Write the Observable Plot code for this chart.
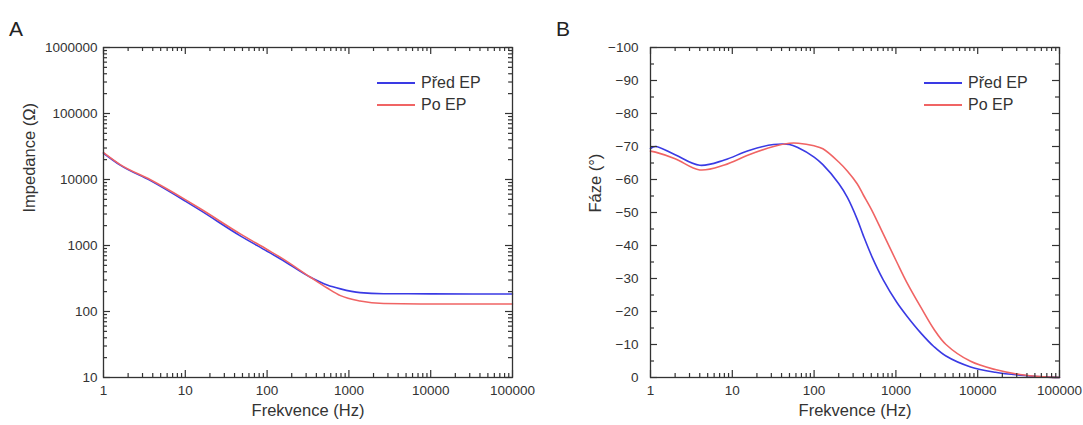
<!DOCTYPE html>
<html><head><meta charset="utf-8">
<script src="https://cdn.jsdelivr.net/npm/d3@7"></script>
<script src="https://cdn.jsdelivr.net/npm/@observablehq/plot@0.6"></script>
<style>
body{margin:0;background:#fff;}
#wrap{position:relative;width:1083px;height:425px;font-family:"Liberation Sans",Arial,sans-serif;color:#333;overflow:hidden;}
.panel{position:absolute;top:0;}
.letter{position:absolute;font-size:21px;line-height:21px;color:#222;}
.legend{position:absolute;font-size:16px;color:#333;}
.legend .row{display:flex;align-items:center;height:22px;}
.legend .sw{width:38px;height:0;border-top:2px solid;margin-right:6px;}
</style></head><body><div id="wrap"></div>
<script>
// ---- data ----
const seriesNames = ["Před EP", "Po EP"];
const seriesColors = ["#3a3ae4", "#f06464"];

// Panel A: impedance vs frequency
const freqA   = [1, 1.6, 3.75, 10, 15.3, 47, 100, 146, 339, 543, 789, 1370, 2660, 10000, 100000];
const zBefore = [25000, 16500, 9600, 4700, 3400, 1400, 820, 625, 330, 252, 220, 193, 186, 185, 184];
const zAfter  = [25500, 16800, 9900, 4950, 3600, 1500, 870, 660, 330, 227, 174, 144, 132, 130, 130];

// Panel B: phase vs frequency
const freqB = [1, 1.15, 2, 4, 8, 16, 32, 50, 64, 100, 128, 200, 256, 336, 400, 512, 700, 1024, 1374, 2048, 2905, 4096, 8192, 16384, 32768, 65536, 100000];
const phaseBefore = [-69.4, -70, -67.5, -64.3, -65.9, -68.8, -70.6, -70.6, -69.6, -66.8, -64.5, -58.8, -54.5, -48, -43, -36.5, -29.6, -22.8, -18.5, -13.3, -9.4, -6.5, -3.2, -1.6, -0.7, -0.2, 0];
const phaseAfter  = [-68.6, -68.3, -66.3, -62.9, -64.4, -67.5, -70, -71, -71, -70.2, -69.3, -65.3, -62.5, -58.7, -55.3, -50.5, -43.5, -35, -28.6, -21, -14.7, -10, -4.9, -2.4, -0.9, -0.2, 0];

// ticks
const freqTicks = [1, 10, 100, 1000, 10000, 100000];
const zTicks = [10, 100, 1000, 10000, 100000, 1000000];
const phaseTicks = [0, -10, -20, -30, -40, -50, -60, -70, -80, -90, -100];
const phaseMinor = [-5, -15, -25, -35, -45, -55, -65, -75, -85, -95];
const logMinor = (decades) => decades.slice(0, -1).flatMap(d => [2,3,4,5,6,7,8,9].map(k => k * d));
const freqMinor = logMinor(freqTicks);
const zMinor = logMinor(zTicks);

// ---- layout ----
const H = 425;
const FONT = "'Liberation Sans', Arial, sans-serif";
const INK = "#333";
const wrap = document.getElementById("wrap");

function boxTicks(xMaj, xMin, yMaj, yMin, innerW, innerH) {
  const L = 7, S = 4;
  const st = {stroke: INK, strokeWidth: 1.2};
  return [
    Plot.tickX(xMaj, {x: d => d, insetTop: innerH - L, ...st}),
    Plot.tickX(xMaj, {x: d => d, insetBottom: innerH - L, ...st}),
    Plot.tickX(xMin, {x: d => d, insetTop: innerH - S, ...st}),
    Plot.tickX(xMin, {x: d => d, insetBottom: innerH - S, ...st}),
    Plot.tickY(yMaj, {y: d => d, insetRight: innerW - L, ...st}),
    Plot.tickY(yMaj, {y: d => d, insetLeft: innerW - L, ...st}),
    Plot.tickY(yMin, {y: d => d, insetRight: innerW - S, ...st}),
    Plot.tickY(yMin, {y: d => d, insetLeft: innerW - S, ...st})
  ];
}

function panel({left, width, m, xDomain, yScale, xTicksMaj, xTicksMin, yTicksMaj, yTicksMin, data, curve, yTitle, yTitleDx, yPad}) {
  const innerW = width - m.left - m.right;
  const innerH = H - m.top - m.bottom;
  const fmt = d3.format("d");
  const chart = Plot.plot({
    width, height: H,
    marginLeft: m.left, marginRight: m.right, marginTop: m.top, marginBottom: m.bottom,
    style: {fontFamily: FONT, fontSize: "13.5px", color: "#333", background: "transparent"},
    x: {type: "log", domain: xDomain, label: null},
    y: {...yScale, label: null},
    color: {domain: seriesNames, range: seriesColors},
    marks: [
      Plot.line(data, {x: "f", y: "v", stroke: "s", z: "s", curve, strokeWidth: 1.6}),
      ...boxTicks(xTicksMaj, xTicksMin, yTicksMaj, yTicksMin, innerW, innerH),
      Plot.frame({stroke: INK, strokeWidth: 1.3}),
      Plot.axisX({ticks: xTicksMaj, tickSize: 0, tickPadding: 8, tickFormat: fmt, label: null}),
      Plot.axisY({ticks: yTicksMaj, tickSize: 0, tickPadding: yPad, tickFormat: fmt, label: null}),
      Plot.text(["Frekvence (Hz)"], {text: d => d, frameAnchor: "bottom", dy: 38, fontSize: 16.5, fill: "#333"}),
      Plot.text([yTitle], {text: d => d, frameAnchor: "left", dx: yTitleDx, rotate: -90, fontSize: 16.5, fill: "#333"})
    ]
  });
  chart.classList.add("panel");
  chart.style.left = left + "px";
  wrap.appendChild(chart);
}

function toRows(freq, a, b) {
  return [
    ...freq.map((f, i) => ({f, v: a[i], s: seriesNames[0]})),
    ...freq.map((f, i) => ({f, v: b[i], s: seriesNames[1]}))
  ];
}

panel({
  left: 0, width: 540, m: {left: 103, right: 28, top: 47, bottom: 48},
  xDomain: [1, 100000], yScale: {type: "log", domain: [10, 1000000]},
  xTicksMaj: freqTicks, xTicksMin: freqMinor, yTicksMaj: zTicks, yTicksMin: zMinor,
  data: toRows(freqA, zBefore, zAfter), curve: "monotone-x",
  yTitle: "Impedance (Ω)", yTitleDx: -74, yPad: 6
});

panel({
  left: 540, width: 543, m: {left: 110, right: 24, top: 47, bottom: 48},
  xDomain: [1, 100000], yScale: {type: "linear", domain: [0, -100]},
  xTicksMaj: freqTicks, xTicksMin: freqMinor, yTicksMaj: phaseTicks, yTicksMin: phaseMinor,
  data: toRows(freqB, phaseBefore, phaseAfter), curve: "catmull-rom",
  yTitle: "Fáze (°)", yTitleDx: -55, yPad: 12
});

// panel letters
[["A", 9], ["B", 556]].forEach(([t, x]) => {
  const d = document.createElement("div");
  d.className = "letter"; d.textContent = t;
  d.style.left = x + "px"; d.style.top = "18px";
  wrap.appendChild(d);
});

// legends
[377, 924].forEach(x => {
  const lg = document.createElement("div");
  lg.className = "legend";
  lg.style.left = x + "px"; lg.style.top = "72px";
  seriesNames.forEach((n, i) => {
    const row = document.createElement("div"); row.className = "row";
    const sw = document.createElement("div"); sw.className = "sw"; sw.style.borderTopColor = seriesColors[i];
    const tx = document.createElement("span"); tx.textContent = n;
    row.appendChild(sw); row.appendChild(tx); lg.appendChild(row);
  });
  wrap.appendChild(lg);
});
</script>
</body></html>
